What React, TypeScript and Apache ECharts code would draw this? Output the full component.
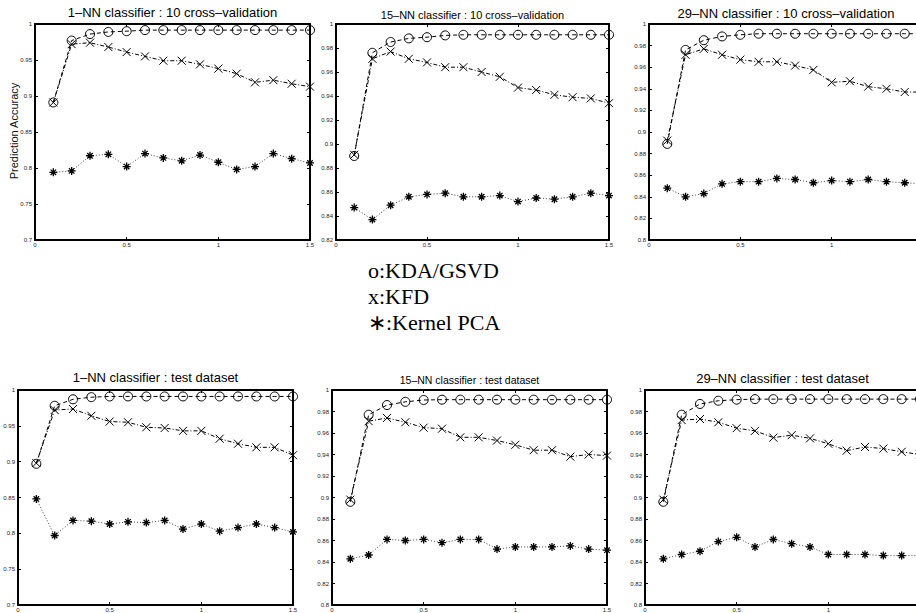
import React, { useEffect, useRef } from "react";
import * as echarts from "echarts";

const xValues = [0.1, 0.2, 0.3, 0.4, 0.5, 0.6, 0.7, 0.8, 0.9, 1.0, 1.1, 1.2, 1.3, 1.4, 1.5];

const titles = [
  "1\u2013NN classifier : 10 cross\u2013validation",
  "15\u2013NN classifier : 10 cross\u2013validation",
  "29\u2013NN classifier : 10 cross\u2013validation",
  "1\u2013NN classifier : test dataset",
  "15\u2013NN classifier : test dataset",
  "29\u2013NN classifier : test dataset",
];

const legendLines = ["o:KDA/GSVD", "x:KFD", "\u2217:Kernel PCA"];
const yAxisName = "Prediction Accuracy";

const yMins = [0.7, 0.82, 0.8, 0.7, 0.8, 0.8];
const yMaxs = [1, 1, 1, 1, 1, 1];
const yIntervals = [0.05, 0.02, 0.02, 0.05, 0.02, 0.02];

// panel 1: 1-NN, 10 cross-validation
const kda1 = [0.891, 0.977, 0.986, 0.989, 0.99, 0.9915, 0.9915, 0.9915, 0.9915, 0.9915, 0.9915, 0.9915, 0.9915, 0.9915, 0.9915];
const kfd1 = [0.891, 0.972, 0.974, 0.968, 0.961, 0.955, 0.949, 0.949, 0.944, 0.938, 0.931, 0.919, 0.922, 0.917, 0.913];
const pca1 = [0.794, 0.796, 0.817, 0.819, 0.802, 0.82, 0.814, 0.81, 0.818, 0.808, 0.798, 0.802, 0.82, 0.813, 0.807];
// panel 2: 15-NN, 10 cross-validation
const kda2 = [0.89, 0.976, 0.985, 0.988, 0.989, 0.9905, 0.991, 0.991, 0.991, 0.991, 0.991, 0.991, 0.991, 0.991, 0.991];
const kfd2 = [0.891, 0.971, 0.977, 0.971, 0.968, 0.964, 0.964, 0.96, 0.956, 0.947, 0.945, 0.941, 0.939, 0.938, 0.934];
const pca2 = [0.847, 0.837, 0.849, 0.856, 0.858, 0.859, 0.856, 0.856, 0.857, 0.852, 0.855, 0.854, 0.856, 0.859, 0.857];
// panel 3: 29-NN, 10 cross-validation
const kda3 = [0.889, 0.976, 0.985, 0.9885, 0.99, 0.991, 0.991, 0.991, 0.991, 0.991, 0.991, 0.991, 0.991, 0.991, 0.991];
const kfd3 = [0.892, 0.9715, 0.977, 0.9715, 0.967, 0.965, 0.965, 0.9615, 0.9575, 0.946, 0.947, 0.942, 0.94, 0.937, 0.937];
const pca3 = [0.848, 0.84, 0.843, 0.852, 0.854, 0.854, 0.857, 0.856, 0.853, 0.855, 0.854, 0.856, 0.854, 0.853, 0.852];
// panel 4: 1-NN, test dataset
const kda4 = [0.897, 0.978, 0.987, 0.99, 0.991, 0.991, 0.991, 0.991, 0.991, 0.991, 0.991, 0.991, 0.991, 0.991, 0.991];
const kfd4 = [0.898, 0.972, 0.9735, 0.964, 0.956, 0.955, 0.948, 0.947, 0.943, 0.943, 0.932, 0.925, 0.92, 0.92, 0.909];
const pca4 = [0.848, 0.797, 0.818, 0.817, 0.813, 0.816, 0.815, 0.818, 0.806, 0.813, 0.803, 0.808, 0.813, 0.808, 0.802];
// panel 5: 15-NN, test dataset
const kda5 = [0.896, 0.977, 0.986, 0.989, 0.9907, 0.991, 0.991, 0.991, 0.991, 0.991, 0.991, 0.991, 0.991, 0.991, 0.991];
const kfd5 = [0.898, 0.971, 0.974, 0.97, 0.965, 0.964, 0.956, 0.956, 0.953, 0.949, 0.944, 0.944, 0.938, 0.94, 0.939];
const pca5 = [0.843, 0.8465, 0.861, 0.86, 0.861, 0.858, 0.861, 0.861, 0.852, 0.854, 0.854, 0.854, 0.855, 0.852, 0.851];
// panel 6: 29-NN, test dataset
const kda6 = [0.896, 0.977, 0.987, 0.99, 0.991, 0.9915, 0.9915, 0.9915, 0.9915, 0.9915, 0.9915, 0.9915, 0.9915, 0.9915, 0.9915];
const kfd6 = [0.898, 0.972, 0.973, 0.97, 0.9645, 0.962, 0.9557, 0.958, 0.955, 0.95, 0.9436, 0.947, 0.9455, 0.9425, 0.94];
const pca6 = [0.843, 0.847, 0.85, 0.859, 0.863, 0.854, 0.861, 0.857, 0.854, 0.847, 0.847, 0.847, 0.846, 0.846, 0.846];

const kdaSets = [kda1, kda2, kda3, kda4, kda5, kda6];
const kfdSets = [kfd1, kfd2, kfd3, kfd4, kfd5, kfd6];
const pcaSets = [pca1, pca2, pca3, pca4, pca5, pca6];

// layout (pixels)
const grids = [
  { left: 35, top: 24, width: 275, height: 216 },
  { left: 336, top: 24, width: 273, height: 216 },
  { left: 649, top: 24, width: 274, height: 216 },
  { left: 18, top: 390, width: 275, height: 215 },
  { left: 332, top: 390, width: 275, height: 215 },
  { left: 645, top: 390, width: 275, height: 215 },
];
const titleSizes = [13, 11, 13, 13, 10.5, 13];
const titleCenterY = [14, 16, 15, 379, 381, 380];

const SANS = "'Liberation Sans', Arial, sans-serif";
const SERIF = "'Liberation Serif', 'Times New Roman', serif";

const X_SYMBOL = "path://M0,0L10,10M10,0L0,10";
const STAR_SYMBOL = "path://M5,0L5,10M0,5L10,5M1.6,1.6L8.4,8.4M8.4,1.6L1.6,8.4";

const mkTick = () => ({ show: true, inside: true, length: 3, lineStyle: { color: "#000", width: 1 } });
const mkLine = () => ({ show: true, onZero: false, lineStyle: { color: "#000", width: 2 } });
const mkLabel = (margin: number) => ({ show: true, fontSize: 6, color: "#222", fontFamily: SANS, margin });

export default function App() {
  const ref = useRef<HTMLDivElement>(null);

  useEffect(() => {
    if (!ref.current) return;
    const chart = echarts.init(ref.current, null, { renderer: "svg" });

    const xAxis: any[] = [];
    const yAxis: any[] = [];
    const series: any[] = [];

    grids.forEach((g, i) => {
      xAxis.push({
        type: "value", gridIndex: i, min: 0, max: 1.5, interval: 0.5, position: "bottom",
        axisLine: mkLine(), axisTick: mkTick(), splitLine: { show: false },
        axisLabel: mkLabel(2),
      });
      xAxis.push({
        type: "value", gridIndex: i, min: 0, max: 1.5, interval: 0.5, position: "top",
        axisLine: mkLine(), axisTick: mkTick(), splitLine: { show: false },
        axisLabel: { show: false },
      });
      yAxis.push({
        type: "value", gridIndex: i, min: yMins[i], max: yMaxs[i], interval: yIntervals[i], position: "left",
        axisLine: mkLine(), axisTick: mkTick(), splitLine: { show: false },
        axisLabel: mkLabel(3),
      });
      yAxis.push({
        type: "value", gridIndex: i, min: yMins[i], max: yMaxs[i], interval: yIntervals[i], position: "right",
        axisLine: mkLine(), axisTick: mkTick(), splitLine: { show: false },
        axisLabel: { show: false },
      });

      const base = {
        type: "line", xAxisIndex: 2 * i, yAxisIndex: 2 * i, silent: true,
        emphasis: { disabled: true },
      };
      series.push({
        ...base, name: "Kernel PCA",
        data: xValues.map((x, j) => [x, pcaSets[i][j]]),
        symbol: STAR_SYMBOL, symbolSize: 8,
        itemStyle: { color: "none", borderColor: "#000", borderWidth: 1.3 },
        lineStyle: { color: "#444", width: 1, type: [1, 2] },
      });
      series.push({
        ...base, name: "KFD",
        data: xValues.map((x, j) => [x, kfdSets[i][j]]),
        symbol: X_SYMBOL, symbolSize: 8,
        itemStyle: { color: "none", borderColor: "#000", borderWidth: 1 },
        lineStyle: { color: "#000", width: 1, type: [4, 2, 1, 2] },
      });
      series.push({
        ...base, name: "KDA/GSVD",
        data: xValues.map((x, j) => [x, kdaSets[i][j]]),
        symbol: "circle", symbolSize: 9,
        itemStyle: { color: "none", borderColor: "#000", borderWidth: 1 },
        lineStyle: { color: "#000", width: 1, type: [4, 3] },
      });
    });

    const title = grids.map((g, i) => ({
      text: titles[i],
      left: g.left + g.width / 2,
      top: titleCenterY[i] - titleSizes[i] * 0.6,
      textAlign: "center",
      padding: 0,
      textStyle: { fontSize: titleSizes[i], fontWeight: "normal", color: "#000", fontFamily: SANS },
    }));

    const graphic: any[] = [
      {
        type: "text", x: 14, y: 131, rotation: Math.PI / 2, silent: true,
        style: { text: yAxisName, font: `11px ${SANS}`, fill: "#111", align: "center", verticalAlign: "middle" },
      },
      ...legendLines.map((t, k) => ({
        type: "text", x: 368, y: 270 + k * 26, silent: true,
        style: { text: t, font: `22px ${SERIF}`, fill: "#000", align: "left", verticalAlign: "middle" },
      })),
    ];

    chart.setOption({
      animation: false,
      title,
      grid: grids.map((g) => ({ ...g, outerBoundsMode: "none" })),
      xAxis,
      yAxis,
      series,
      graphic,
    });

    return () => chart.dispose();
  }, []);

  return (
    <div
      ref={ref}
      style={{ position: "absolute", left: 0, top: 0, width: 916, height: 613, background: "#fff" }}
    />
  );
}
